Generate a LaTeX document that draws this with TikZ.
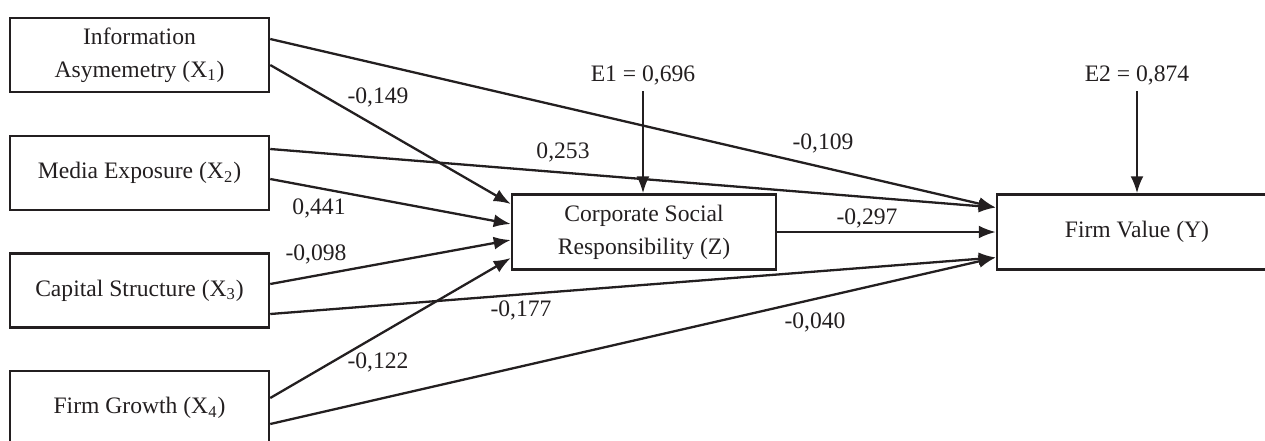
\documentclass[tikz,border=0pt]{standalone}
\usepackage{fontspec}
\setmainfont{Liberation Serif}
\usetikzlibrary{arrows.meta,calc}
\definecolor{ink}{RGB}{35,31,32}
\begin{document}
\begin{tikzpicture}[x=0.5pt,y=-0.5pt,
  box/.style={draw=ink,line width=1.25pt,rectangle,align=center,inner sep=0pt,
    font=\fontsize{11.8}{16.5}\selectfont,text=ink},
  xbox/.style={box,minimum width=129.5pt,minimum height=37pt},
  lbl/.style={font=\fontsize{11.8}{14}\selectfont,text=ink,inner sep=0pt},
  arr/.style={draw=ink,line width=1.15pt,-{Latex[length=8.5pt,width=6.5pt]}}]
\useasboundingbox (0,0) rectangle (1265,440);
\clip (0,0) rectangle (1265,440);
% nodes
\node[xbox] (X1) at (139.5,55) {Information\\Asymemetry (X\textsubscript{1})};
\node[xbox] (X2) at (139.5,173) {Media Exposure (X\textsubscript{2})};
\node[xbox] (X3) at (139.5,290.5) {Capital Structure (X\textsubscript{3})};
\node[xbox] (X4) at (139.5,408) {Firm Growth (X\textsubscript{4})};
\node[box,minimum width=132pt,minimum height=37.5pt] (Z) at (644,232) {Corporate Social\\Responsibility (Z)};
\node[box,minimum width=140pt,minimum height=37.5pt] (Y) at (1137,232) {Firm Value (Y)};
\node[lbl] (E1) at (643,75) {E1 = 0,696};
\node[lbl] (E2) at (1137,75) {E2 = 0,874};
% arrows to Z
\draw[arr] ([yshift=-5pt]X1.east) -- ([yshift=14pt]Z.west);
\draw[arr] ([yshift=-3pt]X2.east) -- ([yshift=4pt]Z.west);
\draw[arr] ([yshift=3.25pt]X3.east) -- ([yshift=-4pt]Z.west);
\draw[arr] ([yshift=5pt]X4.east) -- ([yshift=-13pt]Z.west);
% arrows to Y
\draw[arr] ([yshift=8pt]X1.east) -- ([yshift=12.25pt]Y.west);
\draw[arr] ([yshift=12pt]X2.east) -- ([yshift=12.25pt]Y.west);
\draw[arr] ([yshift=-11.75pt]X3.east) -- ([yshift=-12.75pt]Y.west);
\draw[arr] ([yshift=-8pt]X4.east) -- ([yshift=-12.75pt]Y.west);
\draw[arr] (Z.east) -- (Y.west);
% error terms
\draw[arr] ([yshift=-3pt]E1.south) -- (E1.south |- Z.north);
\draw[arr] ([yshift=-3pt]E2.south) -- (E2.south |- Y.north);
% labels
\node[lbl] (l1) at (378,97) {-0,149};
\node[lbl] (l2) at (563,152) {0,253};
\node[lbl] (l3) at (823,143) {-0,109};
\node[lbl] (l4) at (319,208) {0,441};
\node[lbl] (l5) at (867,218) {-0,297};
\node[lbl] (l6) at (316,254) {-0,098};
\node[lbl] (l7) at (521,310) {-0,177};
\node[lbl] (l8) at (378,362) {-0,122};
\node[lbl] (l9) at (815,322) {-0,040};
\end{tikzpicture}
\end{document}
